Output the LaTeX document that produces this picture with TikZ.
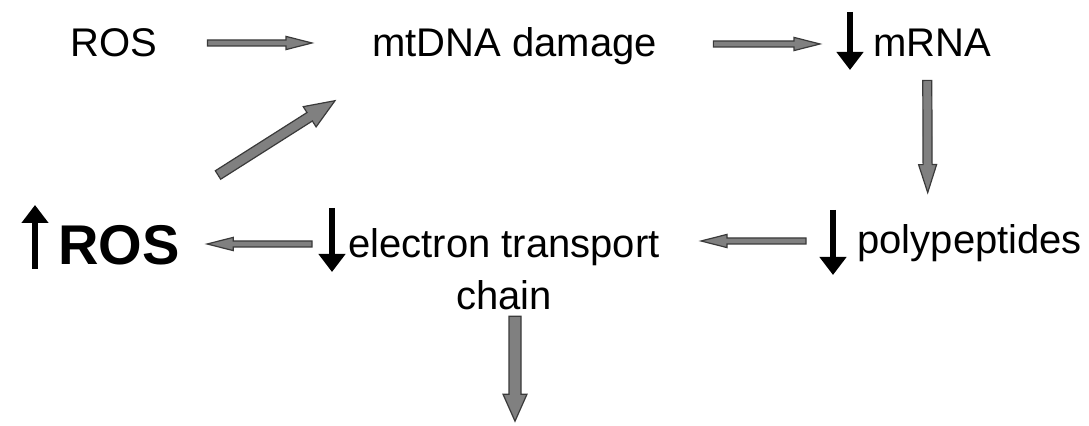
\documentclass[tikz,border=0pt]{standalone}
\usepackage{fontspec}
\setmainfont{Liberation Sans}
\usetikzlibrary{calc,arrows.meta}

\definecolor{blockgray}{HTML}{808080}
\definecolor{blockedge}{HTML}{3A3A3A}

% gray block arrow: start, end, half shaft, half head, head length
\newcommand{\blockarrow}[5]{%
  \coordinate (ba-s) at (#1);
  \coordinate (ba-e) at (#2);
  \coordinate (ba-m) at ($(ba-e)!#5!(ba-s)$);
  \draw[blockbody] ($(ba-s)!#3!90:(ba-e)$) -- ($(ba-m)!#3!90:(ba-e)$)
    -- ($(ba-m)!#4!90:(ba-e)$) -- (ba-e) -- ($(ba-m)!#4!-90:(ba-e)$)
    -- ($(ba-m)!#3!-90:(ba-e)$) -- ($(ba-s)!#3!-90:(ba-e)$) -- cycle;
}

\begin{document}
\begin{tikzpicture}[
  x=0.5pt,
  y=-0.5pt,
  label/.style={
    inner sep=0pt,
    font=\fontsize{20}{26}\selectfont
  },
  biglabel/.style={
    inner sep=0pt,
    font=\fontsize{28}{32}\selectfont\bfseries
  },
  blockbody/.style={
    fill=blockgray,
    draw=blockedge,
    line width=0.6pt,
    line join=miter
  },
  change/.style={
    line width=3pt,
    -{Triangle[width=13pt,length=9pt]}
  }
]
\useasboundingbox (0,0) rectangle (1089,426);

% Top row.
\node[label, anchor=base west] (ros) at (70,57) {ROS};
\node[label, anchor=base west] (damage) at (372,57) {mtDNA damage};
\node[label, anchor=base west] (mrna) at (873,57) {mRNA};

% Bottom row.
\node[biglabel, anchor=base west] (bigros) at (58,265) {ROS};
\node[label, anchor=north, align=center] (etc) at (504,228) {electron transport\\chain};
\node[label, anchor=base west] (polypep) at (857,254) {polypeptides};

% Up and down changes.
\coordinate (mrnadown-a) at ($(mrna.base west)+(-23,-45)$);
\coordinate (mrnadown-b) at ($(mrna.base west)+(-23,13)$);
\coordinate (polydown-a) at ($(polypep.base west)+(-24,-44)$);
\coordinate (polydown-b) at ($(polypep.base west)+(-24,21)$);
\coordinate (etcdown-a) at (332,208);
\coordinate (etcdown-b) at (332,272);
\coordinate (rosup-a) at ($(bigros.base west)+(-23,4)$);
\coordinate (rosup-b) at ($(bigros.base west)+(-23,-60)$);
\draw[change] (mrnadown-a) -- (mrnadown-b);
\draw[change] (polydown-a) -- (polydown-b);
\draw[change] (etcdown-a) -- (etcdown-b);
\draw[change] (rosup-a) -- (rosup-b);

% Block arrows of the cycle.
\blockarrow{$(ros.base east)+(50,-14)$}{$(damage.base west)+(-60,-14)$}{1.5pt}{3.3pt}{13pt}
\blockarrow{$(damage.base east)+(56,-13)$}{$(mrna.base west)+(-53,-13)$}{1.5pt}{3.3pt}{13pt}
\blockarrow{$(mrna.south)+(-5,23)$}{$(polypep.north)+(-42,-32)$}{2.25pt}{4.5pt}{14pt}
\blockarrow{$(polypep.base west)+(-51,-13)$}{$(etc.north east)+(41,13)$}{1.5pt}{3.3pt}{13pt}
\blockarrow{$(etcdown-a)+(-20,36)$}{$(bigros.base east)+(27,-21)$}{1.5pt}{3.3pt}{13pt}
\blockarrow{218,175}{$(damage.south west)+(-37,35)$}{2.5pt}{6pt}{15pt}

% Output of the chain.
\coordinate (chainout) at ($(etc.south)+(11,111)$);
\blockarrow{$(etc.south)+(11,6)$}{chainout}{3pt}{6pt}{13.5pt}

\end{tikzpicture}
\end{document}
